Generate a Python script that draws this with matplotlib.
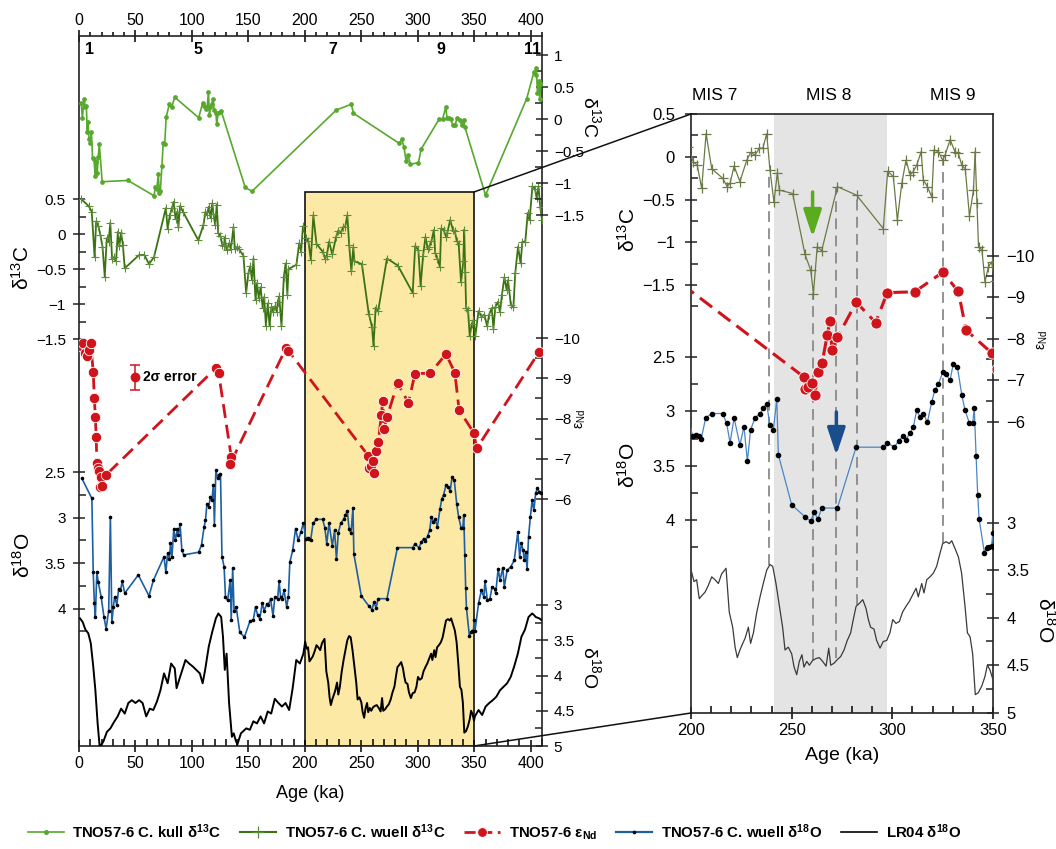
import matplotlib.pyplot as plt
from matplotlib.lines import Line2D
from matplotlib.patches import Rectangle

plt.rcParams['font.family'] = ['Liberation Sans', 'DejaVu Sans']
plt.rcParams['mathtext.fontset'] = 'custom'
plt.rcParams['mathtext.rm'] = 'Liberation Sans'
plt.rcParams['mathtext.it'] = 'Liberation Sans:italic'
plt.rcParams['mathtext.bf'] = 'Liberation Sans:bold'

# ---- data -------------------------------------------------------------
kull_age = [1.9, 3.0, 4.4, 5.7, 6.5, 7.3, 7.9, 8.9, 10.0, 11.0, 12.0, 13.3, 14.3, 15.3,
            16.1, 17.0, 18.0, 20.5, 43.4, 66.4, 67.7, 68.9, 70.2, 71.1, 72.0, 73.4, 74.6,
            75.9, 77.2, 80.0, 82.0, 84.8, 106.0, 109.5, 111.0, 112.5, 113.5, 114.6, 115.5,
            116.4, 117.5, 118.7, 119.6, 121.2, 122.0, 123.2, 124.8, 126.0, 147.2, 153.2,
            227.8, 241.1, 243.0, 283.5, 285.8, 287.7, 289.7, 291.5, 293.4, 300.6, 303.0,
            319.0, 322.0, 324.7, 326.0, 327.6, 329.0, 331.0, 333.0, 335.0, 337.0, 339.0,
            340.6, 341.6, 360.0, 396.5, 402.9, 404.3, 405.0, 406.0, 407.0, 408.0, 409.0]
kull_d13c = [0.25, 0.01, 0.31, 0.19, 0.20, -0.20, -0.04, -0.32, -0.37, -0.20, -0.61, -0.63,
             -0.89, -0.67, -0.85, -0.59, -0.39, -0.98, -0.96, -1.20, -1.06, -1.10, -0.86,
             -1.15, -1.13, -0.74, -0.37, -0.39, 0.03, 0.23, 0.18, 0.34, 0.02, 0.25, 0.20,
             0.16, 0.19, 0.42, 0.06, 0.19, 0.24, 0.31, 0.14, 0.09, -0.08, 0.09, 0.11, 0.12,
             -1.07, -1.13, 0.14, 0.23, 0.09, -0.38, -0.32, -0.43, -0.66, -0.57, -0.71, -0.68,
             -0.47, 0.00, 0.00, 0.18, 0.01, 0.02, 0.00, -0.09, -0.09, 0.02, -0.02, -0.09,
             -0.02, -0.12, -1.19, 0.32, 0.74, 0.68, 0.79, 0.40, 0.60, 0.31, 0.55]

wuell_age = [1.9, 8.5, 11.3, 13.8, 15.2, 17.0, 18.9, 20.8, 22.8, 24.6, 26.2, 27.7, 29.3,
             30.9, 32.8, 34.4, 35.7, 37.3, 38.9, 40.5, 53.2, 57.9, 62.0, 66.4, 76.9, 78.5,
             80.4, 82.3, 83.9, 85.5, 87.0, 88.0, 89.5, 92.0, 105.7, 110.2, 112.0, 113.3,
             114.9, 116.5, 118.0, 119.0, 120.6, 122.0, 123.3, 125.2, 127.0, 128.4, 129.0,
             130.7, 133.0, 134.5, 136.8, 138.0, 140.3, 141.8, 145.6, 148.0, 150.0, 151.6,
             153.2, 154.5, 156.3, 157.6, 159.2, 160.8, 162.7, 164.0, 165.5, 167.2, 168.7,
             170.4, 172.0, 173.6, 175.2, 176.0, 177.3, 179.3, 181.4, 183.0, 184.5, 185.5,
             192.5, 195.0, 196.7, 198.3, 201.2, 203.1, 205.3, 207.5, 210.3, 215.7, 218.0,
             219.4, 221.4, 224.3, 227.7, 229.6, 231.8, 234.0, 235.7, 237.6, 239.2, 241.2,
             242.9, 243.9, 250.5, 256.6, 259.5, 260.8, 262.7, 264.9, 272.7, 282.3, 295.5,
             297.7, 300.5, 302.5, 304.7, 306.8, 308.8, 310.2, 312.1, 314.3, 315.4, 317.4,
             319.6, 320.7, 322.9, 325.0, 326.2, 328.7, 331.1, 332.8, 334.5, 336.2, 338.3,
             340.3, 341.1, 342.0, 342.8, 344.5, 346.0, 347.7, 349.3, 351.0, 353.8, 356.4,
             359.0, 361.4, 363.2, 365.5, 367.0, 368.7, 371.0, 372.8, 374.5, 376.7, 378.7,
             379.9, 382.4, 384.7, 386.3, 388.8, 391.0, 392.6, 395.2, 397.4, 399.0, 401.5,
             403.7, 405.3, 406.9, 408.5, 410.0]
wuell_d13c = [0.50, 0.40, 0.32, -0.33, 0.18, 0.12, -0.01, -0.18, -0.61, -0.06, -0.11, 0.16,
              -0.35, -0.33, -0.39, 0.03, -0.17, 0.01, -0.16, -0.49, -0.30, -0.30, -0.43,
              -0.33, 0.37, 0.07, 0.27, 0.37, 0.46, 0.21, 0.32, 0.10, 0.40, 0.32, -0.09,
              0.13, 0.32, 0.27, 0.39, 0.23, 0.44, 0.29, 0.13, 0.42, 0.01, -0.03, -0.16,
              -0.17, -0.05, -0.23, -0.13, -0.22, 0.10, -0.22, -0.18, -0.22, -0.31, -0.84,
              -0.56, -0.46, -0.66, -0.35, -0.94, -0.70, -0.92, -0.76, -1.06, -0.90, -1.31,
              -0.99, -1.31, -1.04, -1.11, -1.03, -1.11, -0.97, -0.89, -1.32, -0.61, -0.42,
              -0.87, -0.50, -0.44, -0.13, -0.25, 0.11, -0.06, -0.10, -0.37, 0.27, -0.14,
              -0.25, -0.35, -0.31, -0.11, -0.29, -0.04, 0.05, 0.02, 0.10, 0.10, 0.27, -0.15,
              -0.53, -0.19, -0.39, -0.43, -1.14, -1.33, -1.60, -1.05, -1.10, -0.35, -0.45,
              -0.84, -0.17, -0.23, -0.74, -0.31, -0.04, -0.21, -0.18, -0.10, 0.06, -0.27,
              -0.35, -0.47, 0.08, 0.06, -0.04, 0.02, 0.20, 0.06, 0.04, -0.10, -0.14, -0.69,
              -0.39, 0.06, -0.54, -1.05, -1.09, -1.46, -1.29, -1.23, -1.45, -1.10, -1.18,
              -1.15, -1.32, -1.15, -1.06, -1.35, -1.04, -0.97, -1.12, -0.87, -0.62, -0.80,
              -0.66, -1.01, -1.04, -0.56, -0.18, -0.42, -0.11, -0.11, 0.30, 0.20, 0.68,
              0.65, 0.51, 0.68, 0.38, 0.20]

end_age = [1.5, 3.2, 5.0, 7.3, 8.5, 10.4, 12.6, 13.6, 14.5, 15.2, 15.8, 16.5, 17.5, 18.3,
           19.5, 20.5, 24.0, 121.2, 123.7, 134.8, 133.8, 183.5, 185.5, 256.3, 256.8, 258.3,
           260.0, 261.4, 263.2, 265.1, 267.7, 269.0, 270.0, 272.7, 282.1, 291.7, 297.5,
           311.1, 325.0, 332.8, 336.6, 349.5, 352.2, 407.6]
end_val = [-9.80, -9.87, -9.62, -9.56, -9.70, -9.87, -9.15, -8.50, -8.03, -7.55, -6.90,
           -6.78, -6.70, -6.30, -6.55, -6.32, -6.60, -9.25, -9.12, -7.05, -6.87, -9.76,
           -9.68, -7.07, -6.78, -6.83, -6.94, -6.64, -7.20, -7.42, -8.09, -8.43, -7.73,
           -8.03, -8.88, -8.39, -9.11, -9.13, -9.60, -9.14, -8.21, -7.65, -7.26, -9.66]

wd18_age = [2.5, 11.4, 12.6, 13.6, 14.5, 15.8, 17.1, 19.6, 22.1, 24.0, 26.3, 27.8, 29.1,
            30.4, 31.6, 33.5, 35.1, 36.7, 38.3, 40.5, 52.5, 62.0, 65.8, 75.3, 76.9, 78.5,
            80.1, 81.0, 82.3, 83.9, 85.4, 87.0, 88.0, 89.5, 91.1, 92.7, 106.0, 108.5, 110.8,
            112.0, 113.3, 114.9, 116.4, 117.7, 119.0, 119.9, 121.2, 122.8, 124.0, 125.3,
            126.6, 128.5, 129.7, 131.6, 133.9, 134.8, 136.1, 137.3, 139.2, 142.4, 146.5,
            151.3, 154.4, 156.3, 158.2, 160.1, 162.3, 163.9, 166.4, 167.7, 169.6, 171.8,
            173.4, 175.9, 177.2, 178.5, 179.7, 181.6, 183.9, 185.4, 186.7, 189.2, 191.8,
            194.0, 196.5, 198.7, 200.8, 202.5, 203.8, 205.1, 207.3, 210.3, 215.7, 217.7,
            219.4, 221.4, 224.3, 226.3, 228.0, 229.6, 231.8, 234.4, 235.9, 237.6, 239.2,
            240.9, 242.6, 243.4, 250.0, 256.6, 259.5, 261.1, 263.1, 264.9, 272.7, 282.0,
            295.5, 297.5, 301.0, 303.2, 305.2, 306.8, 308.8, 310.5, 312.1, 313.8, 315.4,
            317.4, 319.6, 321.2, 322.9, 325.0, 326.6, 328.7, 330.3, 332.3, 334.5, 336.1,
            338.3, 339.9, 340.7, 341.6, 342.4, 343.1, 345.7, 346.8, 347.9, 349.3, 349.9,
            350.6, 353.8, 356.3, 358.5, 359.5, 361.7, 363.9, 365.8, 368.0, 369.0, 371.2,
            372.8, 375.3, 376.6, 379.1, 382.3, 385.4, 388.6, 390.2, 391.8, 393.3, 394.3,
            395.6, 396.8, 398.1, 399.7, 401.3, 402.8, 404.4, 406.0, 407.6, 409.2]
wd18_val = [2.57, 2.79, 3.60, 3.94, 4.09, 3.60, 3.71, 3.87, 4.09, 4.22, 4.02, 2.99, 4.15,
            3.98, 3.87, 3.96, 3.78, 3.80, 3.70, 3.83, 3.63, 3.86, 3.69, 3.43, 3.60, 3.39,
            3.45, 3.28, 3.43, 3.13, 3.25, 3.13, 3.19, 3.07, 3.36, 3.41, 3.38, 3.30, 3.10,
            3.03, 2.85, 2.88, 2.77, 2.81, 2.64, 3.08, 2.48, 2.57, 2.53, 2.52, 3.43, 3.54,
            3.87, 3.91, 3.69, 4.12, 3.55, 4.02, 3.98, 4.26, 4.31, 4.14, 4.12, 3.98, 4.07,
            4.11, 3.94, 4.02, 3.95, 3.96, 3.89, 4.08, 3.87, 3.89, 3.70, 3.87, 3.89, 3.80,
            3.98, 3.87, 3.49, 3.36, 3.12, 3.25, 3.16, 3.06, 3.23, 3.22, 3.23, 3.25, 3.06,
            3.02, 3.02, 3.11, 3.29, 3.06, 3.31, 3.14, 3.46, 3.17, 3.06, 3.02, 2.97, 2.93,
            3.13, 3.17, 2.89, 3.40, 3.86, 3.97, 4.01, 3.93, 3.99, 3.89, 3.89, 3.33, 3.33,
            3.29, 3.33, 3.27, 3.23, 3.26, 3.20, 3.14, 2.99, 3.05, 3.02, 3.10, 2.91, 2.80,
            2.75, 2.64, 2.66, 2.71, 2.56, 2.59, 2.85, 2.99, 3.11, 3.11, 2.97, 3.41, 3.77,
            3.99, 4.30, 4.26, 4.25, 4.24, 4.12, 4.25, 3.94, 3.80, 3.87, 3.70, 3.91, 3.89,
            3.76, 3.78, 3.83, 3.56, 3.69, 3.55, 3.76, 3.58, 3.54, 3.47, 3.16, 3.43, 3.28,
            3.36, 3.47, 3.38, 3.56, 3.21, 2.99, 2.81, 2.92, 2.73, 2.68, 2.72, 2.73]

lr04_age = [0.9, 3.2, 5.7, 8.2, 10.4, 12.6, 14.5, 16.5, 18.3, 21.5, 24.7, 27.8, 31.0, 34.2,
            37.3, 40.5, 43.7, 46.8, 50.0, 53.2, 56.3, 59.5, 62.7, 65.8, 69.0, 72.1, 75.3,
            78.5, 81.6, 84.8, 86.4, 89.5, 94.3, 97.5, 100.6, 103.8, 107.0, 109.5, 111.7,
            114.9, 118.0, 121.2, 123.4, 125.9, 127.5, 129.1, 130.7, 132.9, 135.4, 137.0,
            138.6, 140.2, 143.4, 148.1, 151.3, 154.4, 157.6, 160.8, 163.9, 167.1, 170.2,
            173.4, 176.6, 179.7, 182.9, 186.1, 189.2, 192.4, 195.6, 198.7, 200.3, 201.5,
            202.8, 204.1, 205.3, 207.0, 208.6, 210.3, 211.9, 213.6, 215.2, 217.4, 219.0,
            220.7, 221.9, 223.0, 224.3, 225.7, 226.8, 228.5, 229.6, 231.0, 232.6, 234.3,
            235.9, 237.6, 239.2, 240.6, 242.2, 243.9, 245.5, 246.7, 248.3, 250.0, 251.2,
            252.5, 253.8, 255.1, 256.1, 257.5, 258.8, 260.4, 262.1, 263.7, 265.4, 267.1,
            268.4, 269.4, 271.0, 272.7, 274.3, 276.0, 277.6, 279.3, 280.6, 282.0, 283.6,
            285.3, 286.9, 288.1, 289.2, 290.9, 292.2, 293.9, 295.5, 297.2, 298.8, 300.2,
            301.8, 303.5, 305.1, 306.8, 308.4, 310.1, 311.8, 312.9, 314.6, 315.7, 317.1,
            318.7, 320.4, 322.0, 323.7, 325.0, 326.7, 328.3, 329.5, 331.1, 332.8, 334.4,
            336.1, 337.3, 338.6, 339.9, 341.2, 342.7, 344.4, 346.0, 347.2, 348.5, 349.8,
            350.6, 353.8, 357.0, 360.1, 363.3, 366.4, 369.6, 372.8, 375.9, 379.1, 382.3,
            385.4, 388.6, 391.8, 394.9, 398.1, 401.3, 402.8, 404.4, 407.6, 409.2]
lr04_val = [3.19, 3.24, 3.35, 3.40, 3.54, 3.87, 4.21, 4.68, 5.01, 4.94, 4.80, 4.75, 4.66,
            4.58, 4.47, 4.54, 4.39, 4.35, 4.39, 4.35, 4.39, 4.58, 4.47, 4.49, 4.37, 4.21,
            3.97, 4.11, 3.83, 3.90, 4.18, 4.02, 3.78, 3.83, 3.87, 3.92, 3.97, 4.11, 3.92,
            3.59, 3.38, 3.19, 3.12, 3.17, 3.45, 3.92, 3.69, 4.39, 4.87, 4.82, 4.91, 4.98,
            4.82, 4.75, 4.77, 4.65, 4.68, 4.58, 4.68, 4.51, 4.54, 4.33, 4.39, 4.44, 4.39,
            4.49, 4.18, 3.78, 3.83, 3.69, 3.52, 3.62, 3.60, 3.80, 3.77, 3.73, 3.66, 3.57,
            3.60, 3.64, 3.54, 3.48, 3.94, 4.10, 4.31, 4.42, 4.34, 4.27, 4.22, 4.10, 4.27,
            4.16, 3.95, 3.78, 3.64, 3.50, 3.44, 3.46, 3.64, 3.88, 4.10, 4.34, 4.31, 4.38,
            4.52, 4.60, 4.46, 4.39, 4.52, 4.46, 4.50, 4.45, 4.43, 4.42, 4.46, 4.51, 4.32,
            4.50, 4.48, 4.44, 4.41, 4.34, 4.24, 4.16, 4.02, 3.88, 3.85, 3.81, 3.90, 4.02,
            4.10, 4.12, 4.24, 4.32, 4.25, 4.24, 4.16, 4.02, 4.06, 4.04, 3.94, 3.88, 3.83,
            3.76, 3.69, 3.78, 3.64, 3.74, 3.60, 3.57, 3.53, 3.46, 3.32, 3.22, 3.20, 3.22,
            3.19, 3.27, 3.36, 3.53, 3.88, 4.16, 4.20, 4.38, 4.81, 4.79, 4.72, 4.62, 4.50,
            4.55, 4.64, 4.58, 4.49, 4.56, 4.44, 4.39, 4.35, 4.30, 4.21, 4.16, 4.11, 4.02,
            3.87, 3.69, 3.45, 3.35, 3.17, 3.12, 3.14, 3.17, 3.19, 3.21]

mis_stages = ['1', '5', '7', '9', '11']
mis_ages = [9.5, 105, 225, 321, 402]
mis_zoom = ['MIS 7', 'MIS 8', 'MIS 9']
mis_zoom_ages = [212, 268.5, 330]
event_ages = [238.5, 260.6, 272.2, 282.3, 325.1]

# ---- styling ----------------------------------------------------------
KULL = '#58a82e'
WUELL = '#3b7212'
WUELL_MK = '#5f8c3c'
WUELL_R = '#6a7a45'
RED = '#d0141c'
BLUE = '#1d5fa5'
BLUE_R = '#4a86c6'

W, H = 1056, 849
fig = plt.figure(figsize=(W / 100, H / 100), dpi=100)


def px_axes(box):
    x0, x1, y0, y1 = box
    return fig.add_axes([x0 / W, 1 - y1 / H, (x1 - x0) / W, (y1 - y0) / H])


def fmt(v):
    return f"{v:g}".replace('-', '\u2212')


def overlay(box, xlim, ref, side, major, minor, fs=11, pad=4):
    """Transparent axes on top of a frame; ref gives two (value, pixel row) pairs."""
    x0, x1, y0, y1 = box
    (v1, p1), (v2, p2) = ref
    k = (p2 - p1) / (v2 - v1)
    ax = px_axes(box)
    ax.patch.set_visible(False)
    for s in ax.spines.values():
        s.set_visible(False)
    ax.set_xlim(*xlim)
    ax.set_ylim(v1 + (y1 - p1) / k, v1 + (y0 - p1) / k)
    ax.xaxis.set_visible(False)
    ax.yaxis.set_ticks_position(side)
    ax.set_yticks(major)
    ax.set_yticklabels([fmt(v) for v in major])
    ax.set_yticks(minor, minor=True)
    ax.tick_params(axis='y', which='major', direction='inout', length=9, width=1.1,
                   labelsize=fs, pad=pad, color='#222222')
    ax.tick_params(axis='y', which='minor', direction='in', length=5, width=1.1,
                   color='#222222')
    return ax


def frame(box, xlim):
    ax = px_axes(box)
    ax.set_xlim(*xlim)
    ax.set_ylim(0, 1)
    ax.set_yticks([])
    for s in ax.spines.values():
        s.set_linewidth(1.2)
        s.set_color('#222222')
    return ax


def ffrac(box, y):
    return (box[3] - y) / (box[3] - box[2])


# ---- left panel -------------------------------------------------------
BOX_L = (79, 542, 36, 746)
XL = (0, 410)
fl = frame(BOX_L, XL)
fl.set_xticks(range(0, 401, 50))
fl.set_xticks(range(0, 411, 10), minor=True)
fl.tick_params(axis='x', which='major', direction='inout', length=9, width=1.1,
               labelsize=11.5, pad=3)
fl.tick_params(axis='x', which='minor', direction='in', length=5, width=1.1)
top = fl.secondary_xaxis('top')
top.set_xticks(range(0, 401, 50))
top.set_xticks(range(0, 411, 10), minor=True)
top.tick_params(axis='x', which='major', direction='inout', length=9, width=1.1,
                labelsize=11.5, pad=1)
top.tick_params(axis='x', which='minor', direction='out', length=3, width=1.1)
top.spines['top'].set_visible(False)
fl.add_patch(Rectangle((200, 0), 150, ffrac(BOX_L, 192), transform=fl.get_xaxis_transform(),
                       facecolor='#fde9a6', edgecolor='#111111', lw=1.2, zorder=0))

q = [0.75, 0.25, -0.25, -0.75, -1.25]
ax = overlay(BOX_L, XL, ((3, 605), (5, 746)), 'right', [3, 3.5, 4, 4.5, 5],
             [3.25, 3.75, 4.25, 4.75])
ax.plot(lr04_age, lr04_val, color='black', lw=1.4)

ax = overlay(BOX_L, XL, ((2.5, 472), (4, 608.7)), 'left', [2.5, 3, 3.5, 4],
             [2.75, 3.25, 3.75, 4.25], pad=5)
ax.plot(wd18_age, wd18_val, color=BLUE, lw=1.2, marker='o', ms=1.6, mfc='black', mec='black')

ax = overlay(BOX_L, XL, ((0.5, 199), (-1.5, 339)), 'left', [0.5, 0, -0.5, -1, -1.5],
             q[1:], pad=5)
ax.plot(wuell_age, wuell_d13c, color=WUELL, lw=1.3, marker='+', ms=5.5, mec=WUELL_MK,
        mew=0.8)

ax = overlay(BOX_L, XL, ((1, 55), (-1.5, 215)), 'right', [1, 0.5, 0, -0.5, -1, -1.5], q)
ax.plot(kull_age, kull_d13c, color=KULL, lw=1.2, marker='o', ms=2.4)

ax = overlay(BOX_L, XL, ((-10, 338), (-6, 499)), 'right', [-10, -9, -8, -7, -6],
             [-9.5, -8.5, -7.5, -6.5])
ax.plot(end_age, end_val, color=RED, lw=2, ls=(0, (5, 2.5)), marker='o', ms=7.5,
        mec='white', mew=0.6)
ax.errorbar([50], [-9.02], yerr=[0.3], fmt='o', color=RED, ms=6, capsize=3.5,
            elinewidth=1.1, capthick=1.1)
ax.text(56.5, -9.02, '2σ error', va='center', ha='left', fontsize=10, weight='bold')

for lab, a in zip(mis_stages, mis_ages):
    fig.text((79 + a * 1.1286) / W, 1 - 49 / H, lab, ha='center', va='center',
             fontsize=11.5, weight='bold')

fig.text(22 / W, 1 - 268 / H, r'δ$^{13}$C', rotation=90, ha='center', va='center', fontsize=15)
fig.text(23 / W, 1 - 555 / H, r'δ$^{18}$O', rotation=90, ha='center', va='center', fontsize=15)
fig.text(591 / W, 1 - 117 / H, r'δ$^{13}$C', rotation=270, ha='center', va='center', fontsize=14)
fig.text(581 / W, 1 - 419 / H, r'ε$_{\mathrm{Nd}}$', rotation=90, ha='center', va='center',
         fontsize=10)
fig.text(591 / W, 1 - 667 / H, r'δ$^{18}$O', rotation=270, ha='center', va='center', fontsize=14)
fig.text(310 / W, 1 - 794 / H, 'Age (ka)', ha='center', va='center', fontsize=13)

# ---- right panel (zoom on 200-350 ka) ---------------------------------
BOX_R = (691, 993, 114, 713)
XR = (200, 350)
fr = frame(BOX_R, XR)
fr.set_xticks(range(200, 351, 50))
fr.set_xticks(range(200, 351, 10), minor=True)
fr.tick_params(axis='x', which='major', direction='inout', length=9, width=1.1,
               labelsize=12, pad=3)
fr.tick_params(axis='x', which='minor', direction='in', length=5, width=1.1)
fr.axvspan(241.2, 297.5, color='#e4e4e4', lw=0, zorder=0)

ev_span = [(172, 565), (293, 660), (187, 658), (195, 605), (160, 543)]
for a, (ya, yb) in zip(event_ages, ev_span):
    fr.axvline(a, ffrac(BOX_R, yb), ffrac(BOX_R, ya), color='#8a8a8a', lw=1.3,
               ls=(0, (6, 3.5)), zorder=1)

ax = overlay(BOX_R, XR, ((3, 522.7), (5, 712.7)), 'right', [3, 3.5, 4, 4.5, 5],
             [3.25, 3.75, 4.25, 4.75], fs=12, pad=5)
ax.plot(lr04_age, lr04_val, color='#3a3a3a', lw=0.9)

ax = overlay(BOX_R, XR, ((2.5, 357), (4, 520)), 'left', [2.5, 3, 3.5, 4],
             [2.75, 3.25, 3.75, 4.25], fs=12, pad=7)
ax.plot(wd18_age, wd18_val, color=BLUE_R, lw=0.9, marker='o', ms=3, mfc='black', mec='black')

ax = overlay(BOX_R, XR, ((0.5, 114), (-1.5, 285)), 'left', [0.5, 0, -0.5, -1, -1.5],
             [0.25, -0.25, -0.75, -1.25, -1.75], fs=12, pad=7)
ax.plot(wuell_age, wuell_d13c, color=WUELL_R, lw=0.9, marker='+', ms=7.5, mew=0.9)

ax = overlay(BOX_R, XR, ((-10, 255.7), (-6, 421.7)), 'right', [-10, -9, -8, -7, -6],
             [-9.5, -8.5, -7.5, -6.5], fs=12, pad=5)
ax.plot(end_age, end_val, color=RED, lw=2.2, ls=(0, (5, 2.5)), marker='o', ms=8,
        mec='white', mew=0.6)

# arrows marking the minima
for a, y0, y1, c in [(260.4, 192, 237, '#5aab1e'), (272.2, 412, 455, '#1a4d8c')]:
    fr.annotate('', xy=(a, ffrac(BOX_R, y1)), xytext=(a, ffrac(BOX_R, y0)),
                xycoords=fr.get_xaxis_transform(), textcoords=fr.get_xaxis_transform(),
                arrowprops=dict(arrowstyle='-|>,head_length=1.5,head_width=0.5',
                                mutation_scale=11, color=c, lw=2.5, shrinkA=0, shrinkB=0),
                zorder=6)

for lab, a in zip(mis_zoom, mis_zoom_ages):
    fig.text((691 + (a - 200) * 2.013) / W, 1 - 96 / H, lab, ha='center', va='center',
             fontsize=12.5)

fig.text(628 / W, 1 - 230 / H, r'δ$^{13}$C', rotation=90, ha='center', va='center', fontsize=15)
fig.text(628 / W, 1 - 465 / H, r'δ$^{18}$O', rotation=90, ha='center', va='center', fontsize=15)
fig.text(1043 / W, 1 - 340 / H, r'ε$_{\mathrm{Nd}}$', rotation=90, ha='center', va='center',
         fontsize=10)
fig.text(1045 / W, 1 - 620 / H, r'δ$^{18}$O', rotation=270, ha='center', va='center',
         fontsize=15)
fig.text(842 / W, 1 - 755 / H, 'Age (ka)', ha='center', va='center', fontsize=14)

# connector lines from the highlighted interval to the zoom panel
for (xa, ya), (xb, yb) in [((474, 192), (691, 114)), ((474, 746), (691, 713))]:
    fig.add_artist(Line2D([xa / W, xb / W], [1 - ya / H, 1 - yb / H], color='#111111', lw=1.1))

# ---- legend -----------------------------------------------------------
handles = [
    Line2D([], [], color=KULL, lw=1.2, marker='o', ms=2.6),
    Line2D([], [], color=WUELL, lw=1.5, marker='+', ms=8, mec=WUELL_MK, mew=0.9),
    Line2D([], [], color=RED, lw=2, ls=(0, (4, 2)), marker='o', ms=7, mec='white', mew=0.6),
    Line2D([], [], color=BLUE, lw=1.6, marker='o', ms=1.6, mfc='black', mec='black'),
    Line2D([], [], color='black', lw=1.2),
]
labels = [r'TNO57-6 C. kull δ$^{\mathbf{13}}$C', r'TNO57-6 C. wuell δ$^{\mathbf{13}}$C',
          r'TNO57-6 ε$_{\mathbf{Nd}}$', r'TNO57-6 C. wuell δ$^{\mathbf{18}}$O',
          r'LR04 δ$^{\mathbf{18}}$O']
fig.legend(handles, labels, loc='center left', bbox_to_anchor=(14 / W, 1 - 832 / H),
           ncol=5, frameon=False, handlelength=2.4, handletextpad=0.6, columnspacing=1.25,
           prop=dict(weight='bold', size=10.8))

fig.savefig('out.png', dpi=100)
